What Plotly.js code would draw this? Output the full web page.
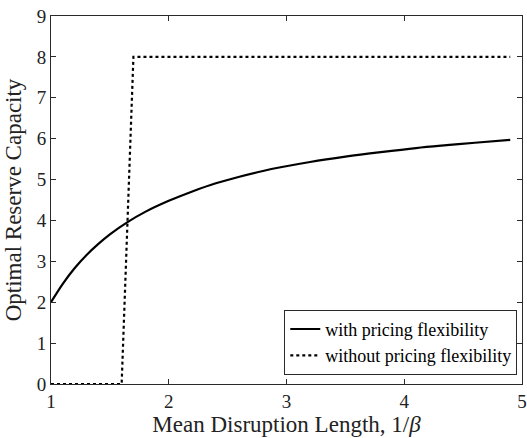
<!DOCTYPE html>
<html>
<head>
<meta charset="utf-8">
<script src="https://cdn.plot.ly/plotly-3.0.1.min.js"></script>
<style>html,body{margin:0;padding:0;background:#fff;}#chart{width:527px;height:438px;}</style>
</head>
<body>
<div id="chart"></div>
<script>
// Data
const withX = [1.0, 1.1, 1.2, 1.3, 1.4, 1.5, 1.65, 1.8, 2.0, 2.2, 2.4, 2.6, 2.8, 2.95, 3.2, 3.5, 3.8, 4.1, 4.36, 4.6, 4.9];
const withY = [2.0, 2.45, 2.83, 3.15, 3.42, 3.66, 3.96, 4.21, 4.48, 4.71, 4.91, 5.07, 5.21, 5.30, 5.43, 5.56, 5.67, 5.77, 5.84, 5.90, 5.97];
const withoutX = [1.0, 1.6, 1.7, 4.9];
const withoutY = [0, 0, 8, 8];
const xTicks = [1, 2, 3, 4, 5];
const yTicks = [0, 1, 2, 3, 4, 5, 6, 7, 8, 9];

const serif = "'Liberation Serif', 'Times New Roman', serif";
const axisColor = "#2a2a2a";

const traces = [
  {x: withX, y: withY, mode: "lines", name: "with pricing flexibility",
   line: {color: "#000", width: 2.2, shape: "spline", smoothing: 1}},
  {x: withoutX, y: withoutY, mode: "lines", name: "without pricing flexibility",
   line: {color: "#000", width: 2.2, dash: "dot"}}
];

const axisCommon = {
  showgrid: false, zeroline: false, showline: true, mirror: "ticks",
  linecolor: axisColor, linewidth: 1, ticks: "inside", ticklen: 5,
  tickcolor: axisColor, tickwidth: 1,
  tickfont: {family: serif, size: 19, color: "#222"}
};

const layout = {
  width: 527, height: 438,
  margin: {l: 51, r: 5, t: 16, b: 54},
  paper_bgcolor: "#fff", plot_bgcolor: "#fff",
  showlegend: true,
  legend: {x: 0.99, y: 0.025, xanchor: "right", yanchor: "bottom",
    bgcolor: "#fff", bordercolor: axisColor, borderwidth: 1,
    font: {family: serif, size: 18, color: "#000"},
    tracegroupgap: 0, itemwidth: 30},
  xaxis: Object.assign({}, axisCommon, {
    range: [1, 5], tickvals: xTicks, ticktext: xTicks.map(String),
    title: {text: "Mean Disruption Length, 1/<i>β</i>", font: {family: serif, size: 23, color: "#222"}, standoff: 4}
  }),
  yaxis: Object.assign({}, axisCommon, {
    range: [0, 9], tickvals: yTicks, ticktext: yTicks.map(String),
    title: {text: "Optimal Reserve Capacity", font: {family: serif, size: 23, color: "#222"}, standoff: 8}
  })
};

Plotly.newPlot("chart", traces, layout, {staticPlot: true, displayModeBar: false});
</script>
</body>
</html>
